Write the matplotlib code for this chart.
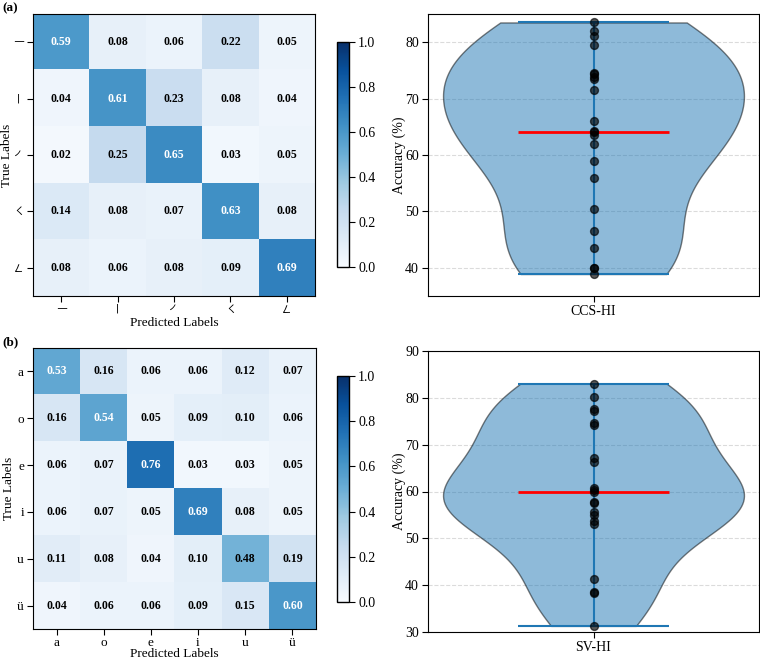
import numpy as np
import matplotlib
matplotlib.use("Agg")
import matplotlib.pyplot as plt

plt.rcParams['font.family'] = ['Liberation Serif', 'Noto Sans CJK SC', 'DejaVu Sans']
plt.rcParams['font.size'] = 10
plt.rcParams['xtick.major.size'] = 4
plt.rcParams['ytick.major.size'] = 4
plt.rcParams['xtick.major.pad'] = 2.5
plt.rcParams['ytick.major.pad'] = 2.5

# confusion matrices
stroke_labels = ['\u31d0', '\u31d1', '\u31d2', '\u31db', '\u31dc']
cm_strokes = np.array([
    [0.59, 0.08, 0.06, 0.22, 0.05],
    [0.04, 0.61, 0.23, 0.08, 0.04],
    [0.02, 0.25, 0.65, 0.03, 0.05],
    [0.14, 0.08, 0.07, 0.63, 0.08],
    [0.08, 0.06, 0.08, 0.09, 0.69],
])

vowel_labels = ['a', 'o', 'e', 'i', 'u', 'ü']
cm_vowels = np.array([
    [0.53, 0.16, 0.06, 0.06, 0.12, 0.07],
    [0.16, 0.54, 0.05, 0.09, 0.10, 0.06],
    [0.06, 0.07, 0.76, 0.03, 0.03, 0.05],
    [0.06, 0.07, 0.05, 0.69, 0.08, 0.05],
    [0.11, 0.08, 0.04, 0.10, 0.48, 0.19],
    [0.04, 0.06, 0.06, 0.09, 0.15, 0.60],
])

# per-subject accuracy (%)
acc_ccs = [83.5, 82.0, 81.1, 79.5, 74.6, 74.4, 73.9, 73.4, 71.5, 66.0, 64.3,
           64.0, 63.6, 62.0, 59.0, 56.0, 50.5, 46.5, 43.5, 40.0, 39.9, 38.9]
acc_sv = [83.0, 80.1, 77.6, 77.2, 74.7, 74.3, 67.2, 66.4, 60.7, 60.4, 60.0,
          57.8, 57.5, 55.6, 55.0, 53.8, 53.0, 41.3, 38.6, 38.3, 31.3]

W, H = 760, 662
fig = plt.figure(figsize=(W / 100, H / 100), dpi=100)


def px_axes(x0, y0, x1, y1):
    return fig.add_axes([x0 / W, (H - y1) / H, (x1 - x0) / W, (y1 - y0) / H])


def draw_cm(ax, cax, cm, labels, tick_font, tick_size, ylab_x, xlab_y, xpad=2.5):
    im = ax.imshow(cm, cmap='Blues', vmin=0, vmax=1, aspect='auto')
    n = len(labels)
    for i in range(n):
        for j in range(n):
            v = cm[i, j]
            ax.text(j, i, f"{v:.2f}", ha='center', va='center', fontsize=8.5,
                    fontweight='bold', color='white' if v > 0.5 else 'black')
    ax.set_xticks(range(n))
    ax.set_yticks(range(n))
    ax.set_xticklabels(labels, family=tick_font, fontsize=tick_size)
    ax.set_yticklabels(labels, family=tick_font, fontsize=tick_size)
    ax.tick_params(axis='x', pad=xpad)
    ax.set_xlabel('Predicted Labels', fontsize=9.5)
    ax.set_ylabel('True Labels', fontsize=9.5)
    ax.xaxis.set_label_coords(0.5, xlab_y)
    ax.yaxis.set_label_coords(ylab_x, 0.5)
    cb = fig.colorbar(im, cax=cax)
    cb.set_ticks([0, 0.2, 0.4, 0.6, 0.8, 1.0])
    cb.outline.set_linewidth(1)


def draw_violin(ax, data, name, ylim, yticks):
    parts = ax.violinplot([data], positions=[1], showmedians=True)
    for body in parts['bodies']:
        body.set_facecolor('#1f77b4')
        body.set_edgecolor('black')
        body.set_alpha(0.5)
    for key in ['cmins', 'cmaxes', 'cbars']:
        parts[key].set_color('#1f77b4')
        parts[key].set_linewidth(1.5)
    parts['cmedians'].set_color('red')
    parts['cmedians'].set_linewidth(2)
    ax.scatter(np.ones(len(data)), data, color='black', alpha=0.65, s=32, zorder=3)
    ax.set_xticks([1])
    ax.set_xticklabels([name])
    ax.set_ylim(*ylim)
    ax.set_yticks(yticks)
    ax.set_ylabel('Accuracy (%)', fontsize=10)
    ax.yaxis.set_label_coords(-0.066, 0.5)
    ax.yaxis.grid(True, linestyle='--', color='lightgray', alpha=0.8)
    ax.set_axisbelow(True)


cjk = ['Noto Sans CJK SC', 'DejaVu Sans']

ax1 = px_axes(33, 14, 315, 296)
cax1 = px_axes(337, 42, 349, 267)
draw_cm(ax1, cax1, cm_strokes, stroke_labels, cjk, 8, -0.072, -0.075)

ax2 = px_axes(428, 14, 759, 296)
draw_violin(ax2, acc_ccs, 'CCS-HI', (35, 85), [40, 50, 60, 70, 80])

ax3 = px_axes(33, 348, 316, 629)
cax3 = px_axes(337, 376, 349, 602)
draw_cm(ax3, cax3, cm_vowels, vowel_labels, ['Liberation Serif'], 9.5, -0.064, -0.068,
        xpad=1.5)

ax4 = px_axes(428, 351, 759, 632)
draw_violin(ax4, acc_sv, 'SV-HI', (30, 90), [30, 40, 50, 60, 70, 80, 90])

fig.text(2 / W, 1 - 2 / H, '(a)', fontsize=9.5, fontweight='bold', va='top')
fig.text(2 / W, 1 - 336 / H, '(b)', fontsize=9.5, fontweight='bold', va='top')

fig.savefig('out.png', dpi=100)
